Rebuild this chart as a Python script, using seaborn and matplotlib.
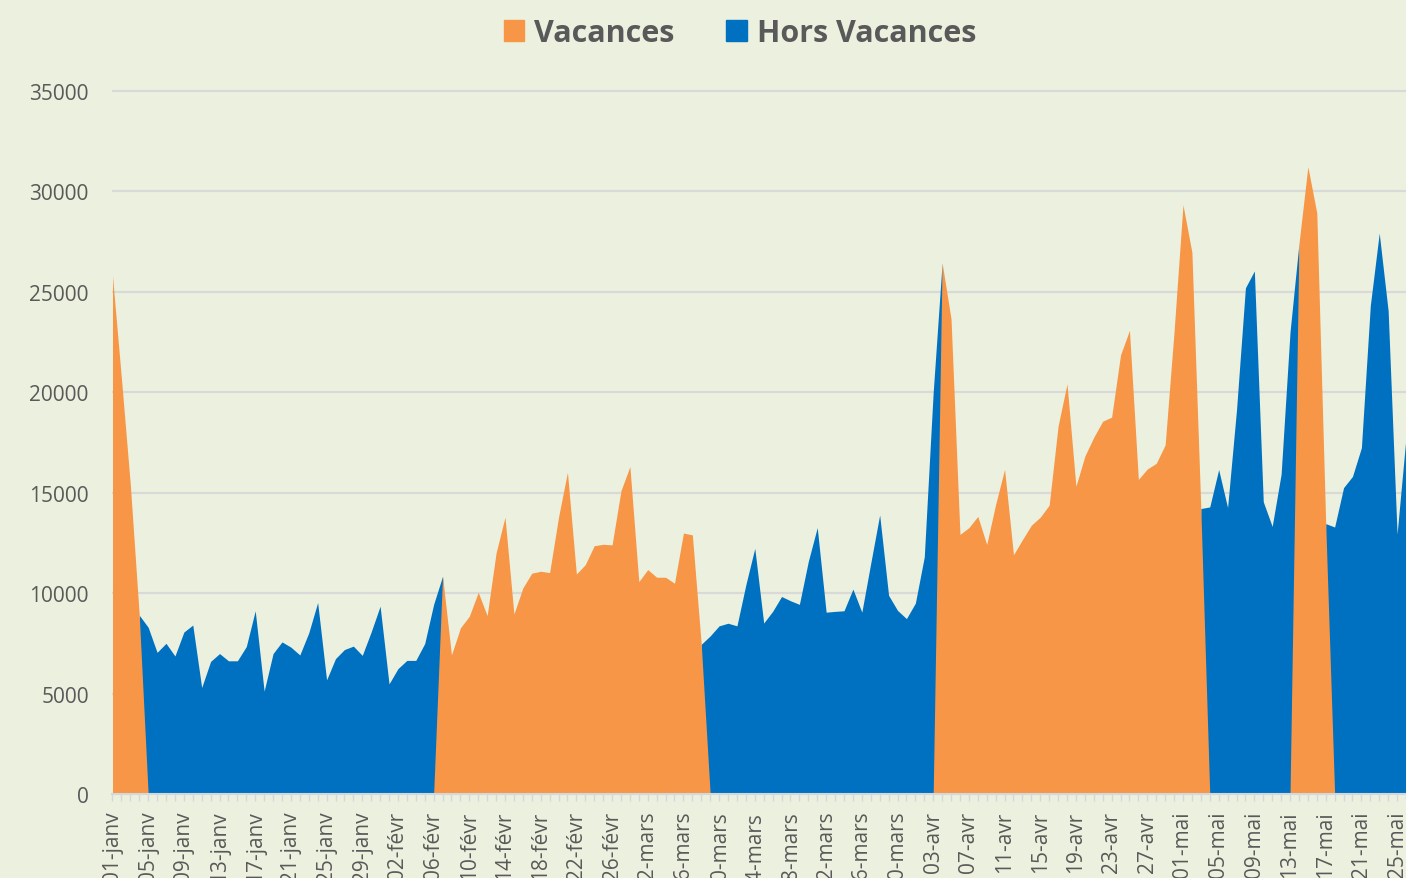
import numpy as np
import pandas as pd
import matplotlib
matplotlib.use("Agg")
import matplotlib.pyplot as plt
from matplotlib.patches import Patch
import seaborn as sns

# fréquentation journalière (lecture du graphique), à partir du 1er janvier
debut = "2017-01-01"
frequentation = [
    25800, 20700, 15400, 8900, 8300, 7050, 7500, 6870, 8060, 8410,
    5300, 6600, 6990, 6630, 6630, 7340, 9120, 5120, 6990, 7570,
    7310, 6920, 8020, 9530, 5680, 6740, 7190, 7360, 6900, 8070,
    9350, 5480, 6240, 6650, 6650, 7490, 9440, 10840, 6920, 8270,
    8850, 10040, 8880, 12000, 13780, 8960, 10260, 10990, 11090, 11020,
    13780, 16020, 10950, 11420, 12360, 12430, 12400, 15100, 16300, 10570,
    11170, 10790, 10790, 10490, 12990, 12900, 7450, 7870, 8370, 8500,
    8370, 10420, 12230, 8510, 9090, 9830, 9620, 9440, 11580, 13260,
    9050, 9090, 9120, 10200, 9050, 11490, 13890, 9890, 9140, 8730,
    9500, 11800, 20000, 26440, 23650, 12920, 13260, 13820, 12420, 14420,
    16160, 11910, 12660, 13380, 13780, 14380, 18320, 20420, 15320, 16820,
    17760, 18560, 18760, 21860, 23080, 15660, 16180, 16460, 17380, 23020,
    29330, 26970, 14210, 14290, 16150, 14260, 19120, 25200, 26040, 14550,
    13320, 15920, 23000, 27400, 31230, 28930, 13460, 13290, 15250, 15810,
    17240, 24320, 27920, 24050, 12940, 17760,
]
# périodes de vacances (bornes incluses)
vacances = [
    ("2017-01-01", "2017-01-03"),
    ("2017-02-08", "2017-03-07"),
    ("2017-04-05", "2017-05-02"),
    ("2017-05-15", "2017-05-16"),
]
mois_fr = {1: "janv", 2: "févr", 3: "mars", 4: "avr", 5: "mai"}

orange = "#F79646"
bleu = "#0070C0"
fond = "#EBF1DE"
gris = "#595959"
police = ["Open Sans", "DejaVu Sans"]

jours = pd.date_range(debut, periods=len(frequentation), freq="D")
df = pd.DataFrame({"jour": jours, "total": frequentation})

en_vac = np.zeros(len(df), dtype=bool)
for d0, d1 in vacances:
    en_vac |= ((df["jour"] >= d0) & (df["jour"] <= d1)).to_numpy()
# le jour de bascule appartient aux deux séries (comme dans Excel)
voisin = en_vac | np.r_[False, en_vac[:-1]] | np.r_[en_vac[1:], False]
df["Vacances"] = np.where(voisin, df["total"], 0)
df["Hors Vacances"] = np.where(~en_vac, df["total"], 0)
x = np.arange(len(df))

sns.set_theme(style="white")
plt.rcParams["font.family"] = police

fig = plt.figure(figsize=(14.06, 8.79), dpi=100, facecolor=fond)
ax = fig.add_axes([0.08, 0.0956, 0.92, 0.8032])
ax.set_facecolor(fond)

ax.fill_between(x, df["Hors Vacances"], color=bleu, lw=0, zorder=2)
ax.fill_between(x, df["Vacances"], color=orange, lw=0, zorder=3)

ax.set_xlim(0, 144.53)
ax.set_ylim(0, 35150)
ax.set_yticks(range(0, 35001, 5000))
ax.yaxis.grid(True, color="#D9D9D9", lw=1.5, zorder=1)
ax.xaxis.grid(False)

labels = [f"{d.day:02d}-{mois_fr[d.month]}" for d in df["jour"][::4]]
ax.set_xticks(x[::4])
ax.set_xticklabels(labels, rotation=90, ha="center", va="top")
ax.set_xticks(x, minor=True)
ax.tick_params(axis="x", which="both", bottom=True, length=5, width=1,
               color="#D4D8DC", pad=7, labelsize=15, labelcolor=gris)
ax.tick_params(axis="y", length=0, pad=17, labelsize=15, labelcolor=gris)

for s in ["top", "right", "left"]:
    ax.spines[s].set_visible(False)
ax.spines["bottom"].set_color("#D4D8DC")
ax.spines["bottom"].set_linewidth(1.5)
ax.spines["bottom"].set_zorder(4)
ax.set_xlabel("")
ax.set_ylabel("")

handles = [Patch(color=orange), Patch(color=bleu)]
fig.legend(handles, ["Vacances", "Hors Vacances"], loc="center",
           bbox_to_anchor=(0.5263, 0.961), ncol=2, frameon=False,
           prop={"family": police, "weight": "bold", "size": 22},
           labelcolor=gris, handlelength=0.66, handleheight=0.66,
           handletextpad=0.33, columnspacing=1.7)

fig.savefig("out.png", dpi=100, facecolor=fond)
